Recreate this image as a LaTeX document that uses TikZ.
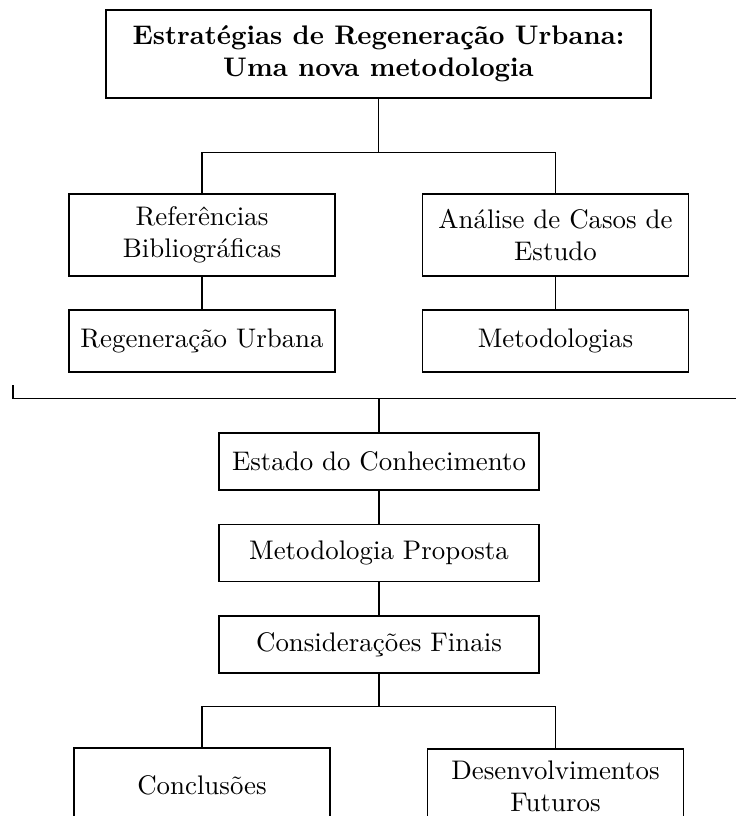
\documentclass[tikz,border=0pt]{standalone}
\usepackage{fontspec}
\begin{document}
\begin{tikzpicture}[
    x=0.372pt, y=-0.372pt,
    line width=0.65pt,
    box/.style={draw, line width=0.65pt, align=center, inner sep=0pt},
    titlebox/.style={box, font=\bfseries, minimum width=202.7pt, minimum height=32.7pt},
    widebox/.style={box, minimum width=98.95pt, minimum height=30.5pt},
    lowbox/.style={box, minimum width=98.95pt, minimum height=23.06pt},
    midbox/.style={box, minimum width=119pt, minimum height=21.2pt},
    endbox/.style={box, minimum width=95.2pt, minimum height=27.5pt}
  ]
  \useasboundingbox (0,0) rectangle (736,816);
  \clip (0,0) rectangle (736,816);

  % title
  \node[titlebox] (top) at (378.5,54) {Estratégias de Regeneração Urbana:\\Uma nova metodologia};

  % sources
  \node[widebox] (ref) at (202,235) {Referências\\Bibliográficas};
  \node[widebox] (ana) at (555.5,235) {Análise de Casos de\\Estudo};
  \node[lowbox] (reg) at (202,341) {Regeneração Urbana};
  \node[lowbox] (met) at (555.5,341) {Metodologias};

  % main sequence
  \node[midbox] (est) at (379,461.5) {Estado do Conhecimento};
  \node[midbox] (prop) at (379,553) {Metodologia Proposta};
  \node[midbox] (cons) at (379,644.5) {Considerações Finais};

  % outcomes
  \node[endbox] (conc) at (202,785) {Conclusões};
  \node[endbox] (des) at (555.5,786) {Desenvolvimentos\\Futuros};

  % junctions
  \coordinate (j1) at (378.5,152.5);
  \coordinate (lt) at (13.3,385);
  \coordinate (lr) at (745,398.5);
  \coordinate (j2) at (379,398.5);
  \coordinate (j3) at (379,706.5);

  % connectors
  \draw (top.south) -- (j1);
  \draw (ref.north) |- (j1) -| (ana.north);
  \draw (ref) -- (reg);
  \draw (ana) -- (met);
  \draw (lt) |- (lr);
  \draw (j2) -- (est.north);
  \draw (est) -- (prop);
  \draw (prop) -- (cons);
  \draw (cons.south) -- (j3);
  \draw (conc.north) |- (j3) -| (des.north);
\end{tikzpicture}
\end{document}
